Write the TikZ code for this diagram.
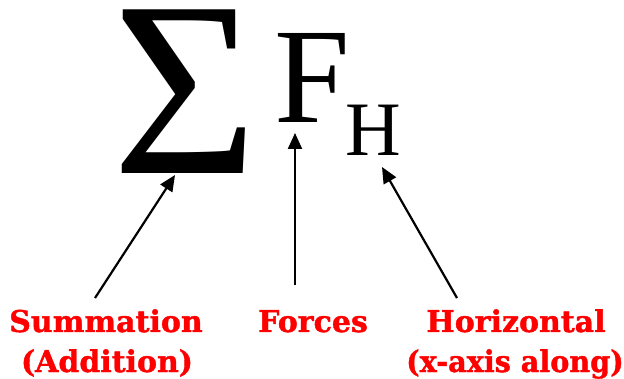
\documentclass[tikz,border=0pt]{standalone}
\usepackage{fontspec}
\setmainfont{Liberation Serif}
\newfontfamily\lblfont[BoldFeatures={FakeBold=1.3}]{DejaVu Serif}
\usetikzlibrary{arrows.meta}
\definecolor{lblred}{RGB}{255,0,0}
\tikzset{
  lbl/.style={font=\lblfont\bfseries\fontsize{30}{30}\selectfont, text=lblred, inner sep=0pt, anchor=base},
  glyph/.style={inner sep=0pt, anchor=base west},
  arr/.style={line width=2.2pt, -{Triangle[length=16pt,width=14pt]}}
}
\begin{document}
\begin{tikzpicture}[x=1pt,y=-1pt]
\useasboundingbox (0,0) rectangle (624,379);
% symbols
\node[glyph, font=\fontsize{250}{250}\selectfont, text height=164pt, text depth=0pt] (sigma) at (112,174) {Σ};
\node[glyph, font=\fontsize{136}{136}\selectfont] (F) at (274,123) {F};
\node[glyph, font=\fontsize{77}{77}\selectfont] (H) at (345,156) {H};
% labels
\node[lbl] (sum) at (106,332) {Summation};
\node[lbl] (add) at (107,372) {(Addition)};
\node[lbl] (forces) at (313,332) {Forces};
\node[lbl] (horiz) at (516,332) {Horizontal};
\node[lbl, transform shape, xscale=0.955] (xaxis) at (515,372) {(x-axis along)};
% arrow ends
\coordinate (s1) at (95,298);
\coordinate (e1) at (175,175);
\coordinate (s2) at (295,285);
\coordinate (e2) at (295,133);
\coordinate (s3) at (457,298);
\coordinate (e3) at (382,167);
\draw[arr] (s1) -- (e1);
\draw[arr] (s2) -- (e2);
\draw[arr] (s3) -- (e3);
\end{tikzpicture}
\end{document}
